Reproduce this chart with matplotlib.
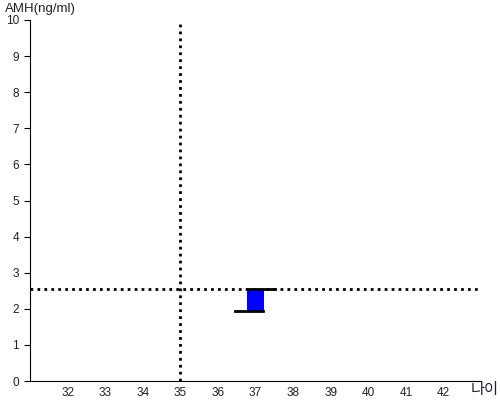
import matplotlib
matplotlib.use("Agg")
import matplotlib.pyplot as plt

plt.rcParams['font.family'] = ['Liberation Sans', 'Noto Sans CJK KR', 'DejaVu Sans']

x_ticks = [32, 33, 34, 35, 36, 37, 38, 39, 40, 41, 42]
y_ticks = [0, 1, 2, 3, 4, 5, 6, 7, 8, 9, 10]
age_ref = 35
amh_ref = 2.55
age = 37
amh_low = 1.95
amh_high = 2.55

fig = plt.figure(figsize=(5, 4), dpi=100)
ax = fig.add_axes([0.06, 0.0475, 0.902, 0.9025])

ax.axvline(age_ref, color="black", linestyle=(0, (1, 1.5)), linewidth=2)
ax.axhline(amh_ref, color="black", linestyle=(0, (1, 1.5)), linewidth=2)

ax.bar(age, amh_high - amh_low, bottom=amh_low, width=0.43, color="#0000ff",
       edgecolor="none", zorder=3)
ax.plot([age - 0.21, age + 0.52], [amh_high, amh_high], color="black", linewidth=2, zorder=4)
ax.plot([age - 0.55, age + 0.21], [amh_low, amh_low], color="black", linewidth=2, zorder=4)

ax.set_xlim(31, 43)
ax.set_ylim(0, 10)
ax.set_xticks(x_ticks)
ax.set_yticks(y_ticks)
ax.tick_params(axis="x", length=0, labelsize=8.5, pad=4, labelcolor="#202030")
ax.tick_params(axis="y", length=4, labelsize=8.5, pad=4, labelcolor="#202030")
ax.spines["top"].set_visible(False)
ax.spines["right"].set_visible(False)

fig.text(0.01, 0.992, "AMH(ng/ml)", fontsize=9.5, va="top", ha="left", color="#202030")
fig.text(0.997, 0.005, "나이", fontsize=11, va="bottom", ha="right", color="#202030",
         family=["Noto Sans CJK KR", "DejaVu Sans"])

plt.savefig("out.png", dpi=100)
